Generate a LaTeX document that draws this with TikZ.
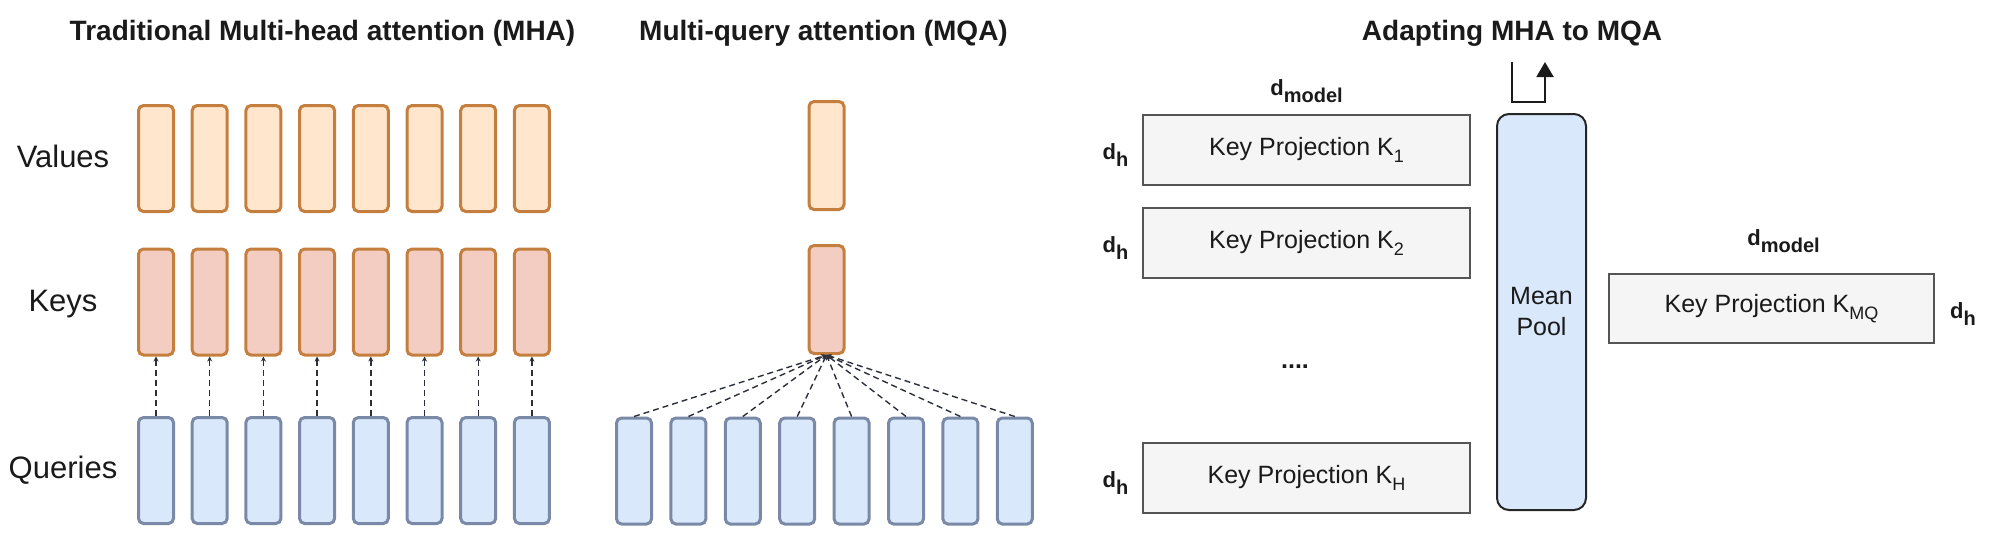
\documentclass[tikz,border=0pt]{standalone}
\usepackage{fontspec}
\setmainfont{Liberation Sans}
\usetikzlibrary{arrows.meta}
\definecolor{vfill}{HTML}{FFE6CC}
\definecolor{kfill}{HTML}{F4CDC2}
\definecolor{qfill}{HTML}{DAE8FC}
\definecolor{ostroke}{HTML}{C47F3E}
\definecolor{qstroke}{HTML}{7A8AA6}
\definecolor{gfill}{HTML}{F5F5F5}
\definecolor{gstroke}{HTML}{555555}
\definecolor{txt}{HTML}{1A1A1A}
\definecolor{conncol}{HTML}{2B2F3A}
\newcommand\ksub[1]{\raisebox{-7pt}{\fontsize{18}{18}\selectfont #1}}
\newcommand\dsub[1]{\raisebox{-7pt}{\fontsize{20}{20}\selectfont\bfseries #1}}
\tikzset{
  cell/.style={line width=3pt, rounded corners=5pt, minimum width=35pt, minimum height=106pt, inner sep=0pt},
  vcell/.style={cell, draw=ostroke, fill=vfill},
  kcell/.style={cell, draw=ostroke, fill=kfill},
  qcell/.style={cell, draw=qstroke, fill=qfill},
  conn/.style={draw=conncol, line width=1.4pt, dash pattern=on 6pt off 4pt, -{Stealth[length=5pt,width=5pt]}},
  title/.style={font=\fontsize{28}{30}\selectfont\bfseries, anchor=base, text=txt},
  rowlab/.style={font=\fontsize{31}{33}\selectfont, anchor=base, text=txt},
  kproj/.style={draw=gstroke, fill=gfill, line width=1.5pt, minimum width=327pt, minimum height=70pt, inner sep=0pt, font=\fontsize{25}{27}\selectfont, text=txt},
  pool/.style={draw=black!85, fill=qfill, line width=2pt, rounded corners=12pt, minimum width=89pt, minimum height=396pt, inner sep=0pt, align=center, font=\fontsize{25}{31}\selectfont, text=txt},
  dimlab/.style={font=\fontsize{22}{24}\selectfont\bfseries, text=txt, inner sep=0pt},
}
\begin{document}
\begin{tikzpicture}[x=1pt,y=-1pt]
\useasboundingbox (0,0) rectangle (2000,546);
% titles
\node[title] (t1) at (322.5,40) {Traditional Multi-head attention (MHA)};
\node[title] (t2) at (823.5,40) {Multi-query attention (MQA)};
\node[title] (t3) at (1512,40) {Adapting MHA to MQA};
% row labels
\node[rowlab] (lv) at (63,167) {Values};
\node[rowlab] (lk) at (63,311) {Keys};
\node[rowlab] (lq) at (63,478) {Queries};
% MHA
\foreach \i in {0,...,7} {
  \pgfmathsetmacro\cx{156+53.7*\i}
  \node[vcell] (mv\i) at (\cx,158.5) {};
  \node[kcell] (mk\i) at (\cx,302) {};
  \node[qcell] (mq\i) at (\cx,470.5) {};
  \draw[conn] (mq\i.north) -- (mk\i.south);
}
% MQA
\node[vcell, minimum height=108pt] (qv) at (826.5,155.5) {};
\node[kcell, minimum height=108pt] (qk) at (826.5,299.5) {};
\foreach \i in {0,...,7} {
  \pgfmathsetmacro\cx{634+54.4*\i}
  \node[qcell] (qq\i) at (\cx,471) {};
  \draw[conn] (qq\i.north) -- (qk.south);
}
% Adapting MHA to MQA
\coordinate (ra) at (1512,62);
\coordinate (rb) at (1545,62);
\draw[line width=2pt, draw=txt, -{Triangle[length=15pt,width=17pt]}] (ra) -- ++(0,40) -| (rb);
\node[dimlab] (dm1) at (1306.5,91) {d\dsub{model}};
\node[kproj] (k1) at (1306.5,150) {Key Projection K\ksub{1}};
\node[kproj] (k2) at (1306.5,243) {Key Projection K\ksub{2}};
\node[kproj] (kh) at (1306.5,478) {Key Projection K\ksub{H}};
\node[dimlab] (dh1) at (1115.5,155) {d\dsub{h}};
\node[dimlab] (dh2) at (1115.5,248) {d\dsub{h}};
\node[dimlab] (dh3) at (1115.5,483) {d\dsub{h}};
\node[font=\fontsize{25}{27}\selectfont\bfseries, text=txt, anchor=base] (dots) at (1295,368) {....};
\node[pool] (mp) at (1541.5,312) {Mean\\Pool};
\node[dimlab] (dm2) at (1783.5,241) {d\dsub{model}};
\node[kproj, minimum width=325pt, minimum height=69pt] (kmq) at (1771.5,308.5) {Key Projection K\ksub{MQ}};
\node[dimlab] (dh4) at (1963,314) {d\dsub{h}};
\end{tikzpicture}
\end{document}
